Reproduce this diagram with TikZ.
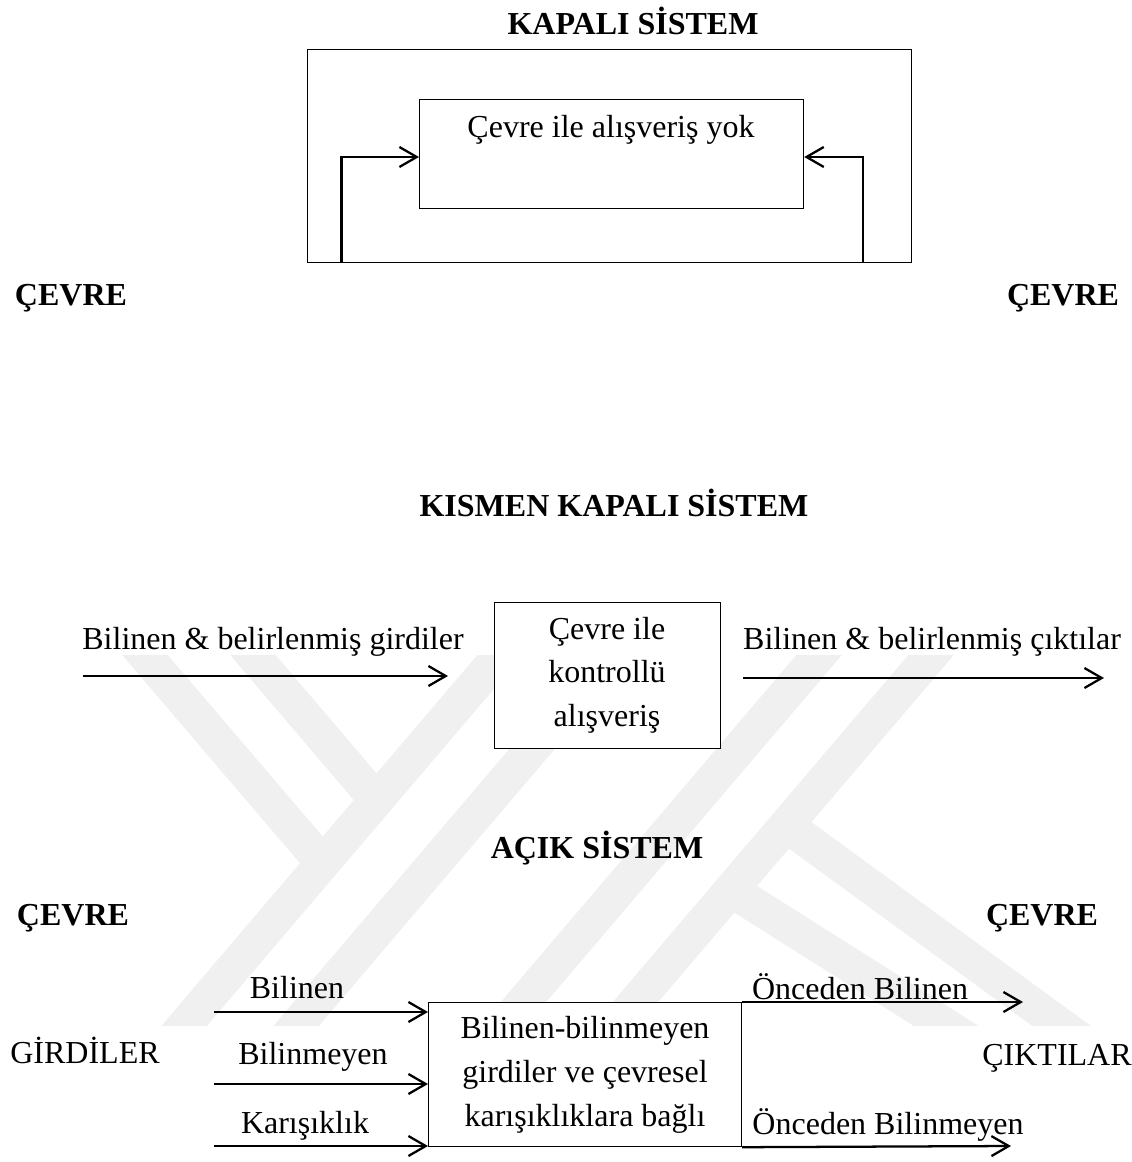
\documentclass[tikz,border=0pt]{standalone}
\usepackage{fontspec}
\setmainfont{Liberation Serif}
\usetikzlibrary{arrows.meta,calc}
\begin{document}
\begin{tikzpicture}[x=0.75pt,y=-0.75pt,
  every node/.style={inner sep=0pt,font=\fontsize{24}{32}\selectfont},
  ttl/.style={font=\fontsize{24}{32}\selectfont\bfseries},
  txt/.style={align=center,font=\fontsize{24}{32.5}\selectfont},
  box/.style={draw,line width=0.9pt,fill=white,anchor=north west},
  arr/.style={line width=1.7pt,-{Straight Barb[length=13pt,width=15pt]}},
  wmband/.style={line width=26pt,draw=black!6,line cap=butt}]
\useasboundingbox (0,0) rectangle (1131,1162);

% faint emblem in the background
\begin{scope}
  \clip (0,655) rectangle (1131,1025);
  \draw[wmband] (167,1046) -- (518,634);
  \draw[wmband] (279,1046) -- (630,634);
  \draw[wmband] (127,634) -- (322.6,863);
  \draw[wmband] (235,634) -- (376.5,800);
  \draw[wmband] (949,634) -- (598,1046);
  \draw[wmband] (837,634) -- (486,1046);
  \draw[wmband] (786,825) -- (1089,1046);
  \draw[wmband] (731,890) -- (978,1046);
\end{scope}

% ---- closed system ----
\node[ttl] (t1) at (633,21) {KAPALI SİSTEM};
\node[box,minimum width=453pt,minimum height=159.75pt] (outer) at (307,49) {};
\node[box,minimum width=288pt,minimum height=81.75pt] (inner) at (419,99) {};
\node (innertxt) at (611,130) {Çevre ile alışveriş yok};
\coordinate (fl) at (341.5,262);
\coordinate (fr) at (863,262);
\coordinate (fy) at (0,157);
\draw[arr] (fl) |- (inner.west |- fy);
\draw[arr] (fr) |- (inner.east |- fy);
\node[ttl] (cl1) at (71,298) {ÇEVRE};
\node[ttl] (cr1) at (1063,298) {ÇEVRE};

% ---- partially closed system ----
\node[ttl] (t2) at (614,503) {KISMEN KAPALI SİSTEM};
\node[box,minimum width=169.5pt,minimum height=109.5pt] (mid) at (494,602) {};
\node[txt] (midtxt) at (607,675) {Çevre ile\\kontrollü\\alışveriş};
\node (inl) at (273,642) {Bilinen \& belirlenmiş girdiler};
\node (outl) at (932,642) {Bilinen \& belirlenmiş çıktılar};
\coordinate (a1) at (83,676);
\coordinate (a2) at (448,676);
\coordinate (a3) at (743,678);
\coordinate (a4) at (1104,678);
\draw[arr] (a1) -- (a2);
\draw[arr] (a3) -- (a4);

% ---- open system ----
\node[ttl] (t3) at (597,848) {AÇIK SİSTEM};
\node[ttl] (cl2) at (73,918) {ÇEVRE};
\node[ttl] (cr2) at (1042,918) {ÇEVRE};
\node[box,minimum width=234.75pt,minimum height=108pt] (bot) at (428,1002) {};
\node[txt,font=\fontsize{24}{33}\selectfont] (bottxt) at (585,1075)
  {Bilinen-bilinmeyen\\girdiler ve çevresel\\karışıklıklara bağlı};
\node (gir) at (85,1050) {GİRDİLER};
\node (cik) at (1057,1058) {ÇIKTILAR};
\node (b1) at (297,988) {Bilinen};
\node (b2) at (313,1057) {Bilinmeyen};
\node (b3) at (305,1126) {Karışıklık};
\coordinate (i1) at (214,1012);
\coordinate (i2) at (214,1084);
\coordinate (i3) at (214,1146);
\draw[arr] (i1) -- (bot.west |- i1);
\draw[arr] (i2) -- (bot.west |- i2);
\draw[arr] (i3) -- (bot.west |- i3);
\node (o1l) at (860,987) {Önceden Bilinen};
\node (o2l) at (888,1125) {Önceden Bilinmeyen};
\coordinate (o1) at (1023,1002);
\coordinate (o2) at (1011,1146);
\draw[arr] (bot.north east) -- (o1);
\draw[arr] (bot.south east) -- (o2);
\end{tikzpicture}
\end{document}
